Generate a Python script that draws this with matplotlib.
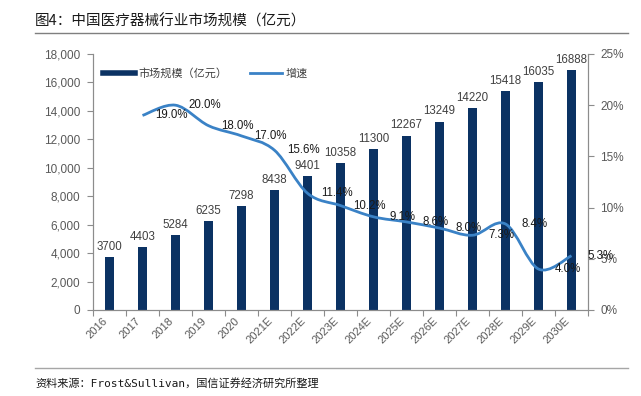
import numpy as np
import matplotlib
matplotlib.use('Agg')
from matplotlib import pyplot as plt
from matplotlib.path import Path
from matplotlib.patches import PathPatch
from matplotlib.lines import Line2D

plt.rcParams['font.family'] = ['Liberation Sans', 'Noto Sans CJK SC']

years = ['2016', '2017', '2018', '2019', '2020', '2021E', '2022E', '2023E',
         '2024E', '2025E', '2026E', '2027E', '2028E', '2029E', '2030E']
market = [3700, 4403, 5284, 6235, 7298, 8438, 9401, 10358,
          11300, 12267, 13249, 14220, 15418, 16035, 16888]
growth_years = years[1:]
growth = [19.0, 20.0, 18.0, 17.0, 15.6, 11.4, 10.2, 9.1, 8.6, 8.0, 7.3, 8.4, 4.0, 5.3]

bar_color = '#0b3263'
line_color = '#3a82c6'
gray = '#595959'
axis_gray = '#8c8c8c'


def smooth_path(xs, ys):
    # excel style smoothed line as cubic bezier segments through the points
    pts = np.column_stack([xs, ys]).astype(float)
    n = len(pts)
    verts = [pts[0]]
    codes = [Path.MOVETO]
    for i in range(n - 1):
        p0 = pts[i - 1] if i > 0 else pts[i]
        p1 = pts[i]
        p2 = pts[i + 1]
        p3 = pts[i + 2] if i + 2 < n else pts[i + 1]
        c1 = p1 + (p2 - p0) / 6.0
        c2 = p2 - (p3 - p1) / 6.0
        verts += [c1, c2, p2]
        codes += [Path.CURVE4] * 3
    return Path(verts, codes)


fig = plt.figure(figsize=(6.41, 3.96), dpi=100)
ax = fig.add_axes([93 / 641, 1 - 310 / 396, 495 / 641, 256 / 396])

x = np.arange(len(years))
ax.bar(x, market, width=0.3, color=bar_color, zorder=2)
for xi, v in zip(x, market):
    ax.annotate(str(v), (xi, v), xytext=(0, 3), textcoords='offset points',
                ha='center', va='bottom', fontsize=8.3, color='#404040')

ax.set_xlim(-0.5, len(years) - 0.5)
ax.set_ylim(0, 18000)
ax.set_yticks(np.arange(0, 18001, 2000))
ax.set_yticklabels(['{:,}'.format(v) for v in range(0, 18001, 2000)])
ax.set_xticks(np.arange(-0.5, len(years), 1))
ax.set_xticklabels([])
ax.set_xticks(x, minor=True)
ax.set_xticklabels(years, minor=True, rotation=45, ha='right', va='top')
ax.tick_params(axis='x', which='major', direction='out', length=4, color=axis_gray)
ax.tick_params(axis='x', which='minor', length=0, pad=4, labelsize=8, labelcolor=gray)
ax.tick_params(axis='y', direction='out', length=4, color=axis_gray, pad=5,
               labelsize=8.5, labelcolor=gray)
for lab in ax.get_xticklabels(minor=True):
    lab.set_x(lab.get_position()[0])
ax.spines['top'].set_visible(False)
for s in ['left', 'bottom', 'right']:
    ax.spines[s].set_color(axis_gray)

ax2 = ax.twinx()
ax2.set_ylim(0, 25)
ax2.set_yticks(np.arange(0, 26, 5))
ax2.set_yticklabels(['{}%'.format(v) for v in range(0, 26, 5)])
ax2.tick_params(axis='y', direction='out', length=4, color=axis_gray, pad=5,
                labelsize=8.5, labelcolor=gray)
ax2.spines['top'].set_visible(False)
for s in ['left', 'bottom', 'right']:
    ax2.spines[s].set_color(axis_gray)

gx = np.array([years.index(y) for y in growth_years])
ax2.add_patch(PathPatch(smooth_path(gx, growth), facecolor='none',
                        edgecolor=line_color, lw=2, zorder=3))
for xi, v in zip(gx, growth):
    ax2.text(xi + 0.88, v, '{:.1f}%'.format(v), ha='center', va='center',
             fontsize=8.3, color='#1a1a1a', clip_on=False)

handles = [Line2D([], [], color=bar_color, lw=4),
           Line2D([], [], color=line_color, lw=2)]
ax.legend(handles, ['市场规模（亿元）', '增速'], loc='upper left',
          bbox_to_anchor=(0.0, 0.985), ncol=2, frameon=False, fontsize=8,
          handlelength=2.9, handletextpad=0.3, columnspacing=2.0,
          labelcolor='#404040')

fig.text(35 / 641, 1 - 21 / 396, '图4：中国医疗器械行业市场规模（亿元）',
         fontsize=10.5, color='#1a1a1a', va='center', ha='left',
         family=['Noto Sans CJK SC'])
fig.add_artist(Line2D([35 / 641, 628 / 641], [1 - 33 / 396, 1 - 33 / 396],
                      color='#7f7f7f', lw=1))
fig.add_artist(Line2D([35 / 641, 628 / 641], [1 - 368 / 396, 1 - 368 / 396],
                      color='#a6a6a6', lw=1))
fig.text(35 / 641, 1 - 383 / 396, '资料来源：Frost&Sullivan，国信证券经济研究所整理',
         fontsize=8, color='#1a1a1a', va='center', ha='left',
         family=['DejaVu Sans Mono', 'Noto Sans CJK SC'])

fig.savefig('out.png', dpi=100)
